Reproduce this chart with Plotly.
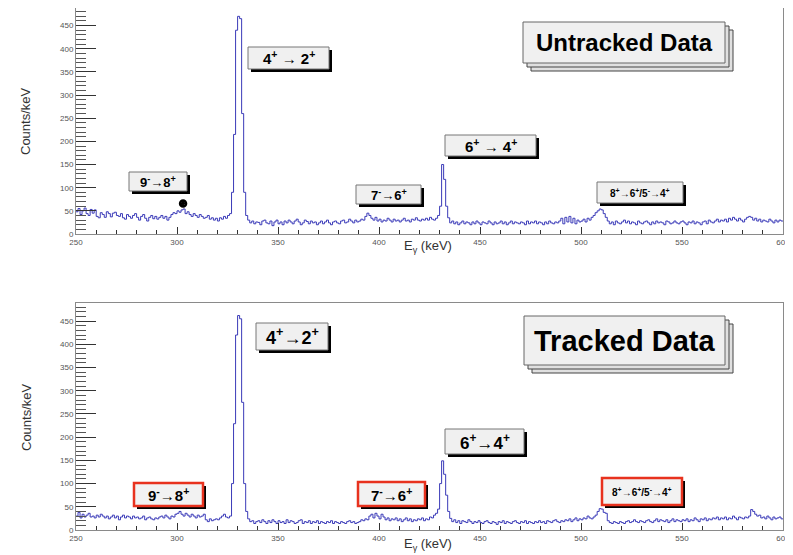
import numpy as np
import plotly.graph_objects as go

# ---------------- data ----------------
E_START = 250
E_STOP = 600

UNTRACKED = [
    48, 55, 42, 50, 56, 44, 40, 53, 45, 52,
    38, 35, 46, 42, 36, 48, 44, 37, 45, 47,
    40, 38, 44, 35, 32, 42, 38, 34, 40, 44,
    36, 30, 38, 42, 34, 28, 36, 40, 33, 38,
    32, 36, 40, 34, 38, 30, 36, 42, 46, 44,
    50, 47, 52, 54, 44, 48, 42, 38, 44, 40,
    36, 42, 38, 34, 36, 40, 32, 35, 30, 34,
    28, 35, 32, 38, 34, 40, 44, 90, 215, 440,
    470, 465, 260, 90, 40, 30, 24, 28, 22, 26,
    25, 20, 28, 30, 24, 22, 28, 18, 26, 30,
    22, 26, 20, 28, 24, 30, 26, 22, 28, 32,
    26, 20, 24, 30, 27, 22, 28, 24, 26, 20,
    24, 28, 22, 26, 30, 24, 20, 26, 28, 24,
    22, 28, 30, 24, 26, 32, 28, 24, 30, 26,
    28, 32, 30, 38, 45, 40, 34, 30, 36, 28,
    32, 26, 30, 28, 34, 30, 26, 32, 28, 30,
    26, 30, 34, 28, 30, 26, 32, 30, 35, 30,
    28, 32, 30, 34, 30, 36, 32, 30, 34, 40,
    60, 150, 118, 60, 35, 24, 28, 22, 26, 20,
    24, 28, 22, 26, 24, 20, 26, 22, 28, 24,
    20, 26, 24, 22, 28, 24, 20, 26, 22, 24,
    28, 22, 26, 20, 24, 28, 22, 26, 24, 22,
    26, 24, 20, 28, 22, 26, 24, 28, 22, 26,
    24, 20, 26, 22, 28, 24, 22, 26, 24, 28,
    34, 22, 36, 26, 38, 24, 34, 22, 30, 26,
    28, 32, 26, 34, 30, 36, 40, 46, 50, 54,
    52, 44, 36, 28, 22, 26, 20, 28, 24, 22,
    26, 30, 24, 28, 22, 26, 24, 20, 28, 24,
    22, 26, 28, 24, 20, 26, 22, 28, 24, 26,
    24, 20, 28, 26, 22, 24, 28, 24, 22, 26,
    28, 24, 20, 26, 24, 28, 22, 26, 24, 20,
    26, 28, 22, 30, 26, 24, 28, 32, 26, 30,
    28, 32, 26, 34, 30, 36, 32, 28, 34, 30,
    26, 32, 36, 38, 36, 30, 34, 28, 32, 26,
    30, 28, 26, 32, 28, 24, 30, 26, 30, 28,
]

TRACKED = [
    30, 38, 26, 34, 28, 32, 36, 28, 30, 26,
    32, 28, 34, 30, 26, 30, 24, 28, 32, 26,
    30, 22, 28, 32, 26, 30, 28, 24, 30, 26,
    28, 24, 26, 30, 22, 26, 28, 24, 22, 26,
    24, 28, 30, 26, 32, 28, 24, 30, 28, 34,
    36, 40, 34, 30, 36, 32, 28, 34, 30, 26,
    32, 28, 30, 34, 22, 18, 24, 20, 22, 24,
    22, 26, 30, 34, 28, 26, 30, 100, 229, 420,
    462, 455, 275, 100, 40, 24, 18, 20, 14, 18,
    20, 16, 22, 18, 14, 20, 16, 22, 18, 14,
    20, 16, 18, 14, 22, 16, 20, 18, 14, 16,
    20, 22, 14, 18, 16, 20, 14, 18, 16, 20,
    14, 18, 16, 14, 18, 16, 20, 14, 18, 16,
    14, 18, 16, 14, 18, 20, 16, 18, 14, 16,
    18, 22, 20, 24, 22, 30, 34, 26, 36, 30,
    24, 34, 28, 22, 26, 20, 24, 22, 26, 20,
    24, 18, 22, 26, 20, 24, 18, 22, 20, 24,
    22, 26, 20, 24, 22, 28, 26, 32, 36, 45,
    100, 149, 120, 75, 40, 25, 18, 22, 16, 20,
    14, 20, 18, 16, 22, 18, 14, 18, 16, 20,
    16, 14, 18, 20, 16, 14, 18, 16, 12, 18,
    16, 20, 14, 18, 16, 14, 18, 20, 16, 14,
    18, 16, 20, 14, 18, 16, 14, 18, 16, 20,
    16, 18, 14, 20, 18, 16, 20, 22, 18, 16,
    20, 18, 22, 20, 24, 18, 22, 26, 20, 24,
    22, 26, 24, 30, 26, 24, 28, 32, 40, 46,
    45, 38, 36, 20, 16, 14, 18, 16, 14, 18,
    16, 14, 18, 20, 16, 18, 22, 18, 16, 20,
    18, 16, 20, 22, 18, 16, 20, 24, 18, 22,
    20, 18, 22, 16, 20, 24, 18, 22, 20, 18,
    22, 20, 24, 18, 22, 20, 26, 22, 18, 24,
    22, 26, 20, 24, 22, 26, 24, 28, 22, 26,
    24, 28, 22, 26, 24, 30, 26, 22, 28, 26,
    24, 28, 26, 30, 44, 40, 34, 30, 32, 26,
    28, 24, 30, 26, 22, 28, 24, 26, 28, 24,
]

MARK_E = [303]
MARK_C = [66]

X_TICKS = [250, 300, 350, 400, 450, 500, 550, 600]
Y_TICKS = [0, 50, 100, 150, 200, 250, 300, 350, 400, 450]

# ---------------- figure ----------------
# page body has an 8px margin: figure pixel = screen pixel - 8
OFF = 8
W, H = 785, 547
def px(x):
    return (x - OFF) / W
def py(y):
    return min(1.0, max(0.0, 1 - (y - OFF) / H))

edges = np.arange(E_START, E_STOP + 1)
fig = go.Figure()

HIST_COLOR = "#3a3ab8"
for vals, xa, ya in [(UNTRACKED, "x", "y"), (TRACKED, "x2", "y2")]:
    yv = list(vals) + [vals[-1]]
    fig.add_trace(go.Scatter(x=edges, y=yv, mode="lines", line_shape="hv",
                             line=dict(color=HIST_COLOR, width=1),
                             xaxis=xa, yaxis=ya, showlegend=False, hoverinfo="skip"))

fig.add_trace(go.Scatter(x=MARK_E, y=MARK_C, mode="markers",
                         marker=dict(symbol="circle-open-dot", size=6, color="black",
                                     line=dict(width=2.5, color="black")),
                         xaxis="x", yaxis="y", showlegend=False))

FRAME = "#8a8a8a"
TICKFONT = dict(family="Liberation Sans, Arial, sans-serif", size=8, color="#555555")

def xaxis(domain_y_anchor):
    return dict(range=[E_START, E_STOP], domain=[px(76), px(783)], anchor=domain_y_anchor,
                automargin=False,
                showgrid=False, zeroline=False, showline=True, linecolor=FRAME, linewidth=1,
                mirror=True, ticks="inside", ticklen=7, tickcolor="#333", tickwidth=1,
                tickvals=X_TICKS, tickfont=TICKFONT,
                minor=dict(ticks="inside", ticklen=4, dtick=10, tick0=250, tickcolor="#333"))

def yaxis(domain, rng, anchor):
    return dict(range=rng, domain=domain, anchor=anchor, automargin=False,
                showgrid=False, zeroline=False, showline=True, linecolor=FRAME, linewidth=1,
                mirror=True, ticks="inside", ticklen=20, tickcolor="#333", tickwidth=1,
                tickvals=Y_TICKS, tickfont=TICKFONT,
                minor=dict(ticks="inside", ticklen=10, dtick=10, tick0=0, tickcolor="#555"))

fig.update_layout(
    width=W, height=H, margin=dict(l=0, r=0, t=0, b=0, autoexpand=False),
    paper_bgcolor="white", plot_bgcolor="white",
    xaxis=xaxis("y"),
    yaxis=yaxis([py(234), py(8)], [0, 488], "x"),
    xaxis2=xaxis("y2"),
    yaxis2=yaxis([py(530), py(303)], [0, 489], "x2"),
)

shapes = []
annots = []
FONT = "Liberation Sans, Arial, sans-serif"

def rect(x0, y0, x1, y1, fill, line, lw=1):
    shapes.append(dict(type="rect", xref="paper", yref="paper",
                       x0=px(x0), x1=px(x1), y0=py(y1), y1=py(y0),
                       fillcolor=fill, line=dict(color=line, width=lw), layer="above"))

def label(box, text, size, red=False, shadow=3):
    x0, y0, x1, y1 = box
    rect(x0 + shadow, y0 + shadow, x1 + shadow, y1 + shadow, "black", "black", 0)
    if red:
        rect(x0, y0, x1, y1, "#f2f2f2", "#e8321e", 2.5)
    else:
        rect(x0, y0, x1, y1, "#f0f0f0", "#777777", 1)
    annots.append(dict(xref="paper", yref="paper", x=px((x0 + x1) / 2), y=py((y0 + y1) / 2),
                       xanchor="center", yanchor="middle", showarrow=False,
                       text="<b>" + text + "</b>",
                       font=dict(family=FONT, size=size, color="black")))

def title_box(box, text, size):
    x0, y0, x1, y1 = box
    for off in (8, 4):
        rect(x0 + off, y0 + off, x1 + off, y1 + off, "#e0e0e0", "#444444", 1)
    rect(x0, y0, x1, y1, "#f0f0f0", "#666666", 1)
    annots.append(dict(xref="paper", yref="paper", x=px((x0 + x1) / 2), y=py((y0 + y1) / 2),
                       xanchor="center", yanchor="middle", showarrow=False,
                       text="<b>" + text + "</b>",
                       font=dict(family=FONT, size=size, color="black")))

# top panel labels
label((129, 172, 187, 191), "9<sup>-</sup>→8<sup>+</sup>", 13)
label((248, 47, 329, 69), "4<sup>+</sup> → 2<sup>+</sup>", 15)
label((356, 185, 421, 204), "7<sup>-</sup>→6<sup>+</sup>", 13)
label((445, 135, 536, 156), "6<sup>+</sup> → 4<sup>+</sup>", 15)
label((597, 182, 683, 203), "8<sup>+</sup>→6<sup>+</sup>/5<sup>-</sup>→4<sup>+</sup>", 10)
title_box((523, 22, 725, 63), "Untracked Data", 24)

# bottom panel labels
label((134, 483, 203, 506), "9<sup>-</sup>→8<sup>+</sup>", 15, red=True)
label((256, 323, 328, 350), "4<sup>+</sup>→2<sup>+</sup>", 18)
label((358, 482, 425, 506), "7<sup>-</sup>→6<sup>+</sup>", 15, red=True)
label((445, 429, 524, 454), "6<sup>+</sup>→4<sup>+</sup>", 17)
label((602, 478, 682, 505), "8<sup>+</sup>→6<sup>+</sup>/5<sup>-</sup>→4<sup>+</sup>", 10, red=True)
title_box((524, 316, 725, 365), "Tracked Data", 29)

# axis titles
for yc in (121, 417):
    annots.append(dict(xref="paper", yref="paper", x=px(26), y=py(yc), textangle=-90,
                       xanchor="center", yanchor="middle", showarrow=False,
                       text="Counts/keV", font=dict(family=FONT, size=13, color="#333")))
for yc in (247, 544):
    annots.append(dict(xref="paper", yref="paper", x=px(428), y=py(yc),
                       xanchor="center", yanchor="middle", showarrow=False,
                       text="E<sub>γ</sub> (keV)", font=dict(family=FONT, size=13, color="#333")))

fig.update_layout(shapes=shapes, annotations=annots)
fig.write_html("out.html")
